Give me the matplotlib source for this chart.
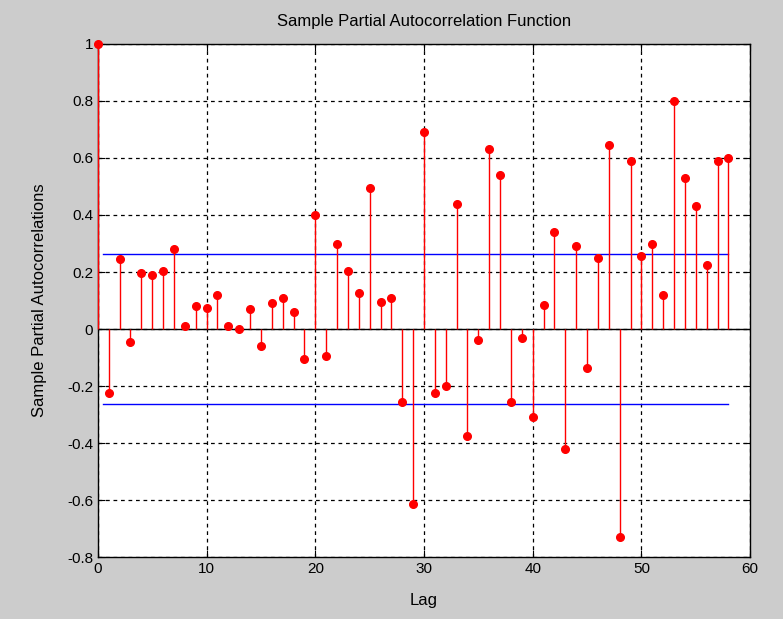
import numpy as np
import matplotlib.pyplot as plt

plt.rcParams['font.family'] = ['Liberation Sans', 'DejaVu Sans']

# Partial autocorrelation values
lags = list(range(0, 59))
pacf = [1.0, -0.225, 0.245, -0.045, 0.195, 0.19, 0.205, 0.28, 0.01, 0.08,
        0.075, 0.12, 0.01, 0.0, 0.07, -0.06, 0.09, 0.11, 0.06, -0.105,
        0.40, -0.095, 0.30, 0.205, 0.125, 0.495, 0.095, 0.11, -0.255, -0.615,
        0.69, -0.225, -0.20, 0.44, -0.375, -0.04, 0.63, 0.54, -0.255, -0.03,
        -0.31, 0.085, 0.34, -0.42, 0.29, -0.135, 0.25, 0.645, -0.73, 0.59,
        0.255, 0.30, 0.12, 0.80, 0.53, 0.43, 0.225, 0.59, 0.60]
bound = 0.262
bound_x = [0.5, 58]

fig = plt.figure(figsize=(7.83, 6.19), dpi=100, facecolor='#cccccc')
ax = fig.add_axes([0.125, 0.100, 0.833, 0.829])
ax.set_facecolor('white')

# Stems and markers
ax.vlines(lags, 0, pacf, colors='red', linewidth=1, clip_on=False, zorder=3)
ax.plot(lags, pacf, 'o', color='red', markersize=5.5, clip_on=False, zorder=4)

# Zero line and confidence bounds
ax.axhline(0, color='black', linewidth=1)
ax.plot(bound_x, [bound, bound], color='blue', linewidth=1)
ax.plot(bound_x, [-bound, -bound], color='blue', linewidth=1)

ax.set_xlim(0, 60)
ax.set_ylim(-0.8, 1)
ax.set_xticks(range(0, 61, 10))
ax.set_yticks(np.arange(-0.8, 1.01, 0.2))
ax.set_yticklabels(['-0.8', '-0.6', '-0.4', '-0.2', '0', '0.2', '0.4', '0.6', '0.8', '1'])
ax.grid(True, color='black', linestyle=(0, (3, 3)), linewidth=0.9)
ax.tick_params(direction='in', length=5, labelsize=11, top=True, right=True)
for s in ax.spines.values():
    s.set_linewidth(1)

ax.set_xlabel('Lag', fontsize=12, labelpad=12)
ax.set_ylabel('Sample Partial Autocorrelations', fontsize=12, labelpad=14)
ax.set_title('Sample Partial Autocorrelation Function', fontsize=12, pad=13)

fig.savefig('out.png', dpi=100, facecolor=fig.get_facecolor())
